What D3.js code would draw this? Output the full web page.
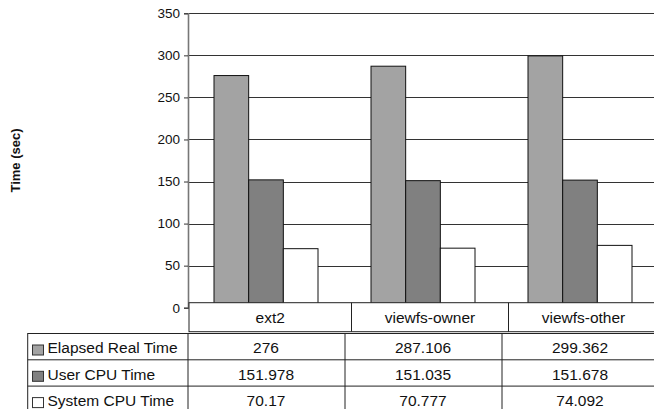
<!DOCTYPE html>
<html>
<head>
<meta charset="utf-8">
<script src="https://cdn.jsdelivr.net/npm/d3@7"></script>
<style>
  html, body { margin: 0; padding: 0; background: #fff; }
  svg { display: block; font-family: "Liberation Sans", Arial, sans-serif; }
</style>
</head>
<body>
<svg id="chart" width="654" height="409"></svg>
<script>
// ---- data ----
const categories = ["ext2", "viewfs-owner", "viewfs-other"];
const seriesNames = ["Elapsed Real Time", "User CPU Time", "System CPU Time"];
const elapsedReal = [276, 287.106, 299.362];
const userCpu = [151.978, 151.035, 151.678];
const systemCpu = [70.17, 70.777, 74.092];
const tableLabels = [["276", "287.106", "299.362"], ["151.978", "151.035", "151.678"], ["70.17", "70.777", "74.092"]];
const yTicks = [0, 50, 100, 150, 200, 250, 300, 350];
const yTitle = "Time (sec)";
const seriesColors = ["#a3a3a3", "#808080", "#ffffff"];

const seriesValues = [elapsedReal, userCpu, systemCpu];

const W = 654, H = 409;
const svg = d3.select("#chart");

const y = d3.scaleLinear().domain([0, 350]).range([307.7, 13.3]);
const x0 = d3.scaleBand().domain(categories).range([187.5, 658.5]).padding(0);
const x1 = d3.scaleBand().domain(seriesNames).range([26.5, 130.5]).padding(0);

const axisX = 188;

// gridlines
svg.append("g").selectAll("line").data(yTicks.filter(t => t > 0)).join("line")
  .attr("x1", axisX).attr("x2", W)
  .attr("y1", d => Math.round(y(d)) + 0.5).attr("y2", d => Math.round(y(d)) + 0.5)
  .attr("stroke", "#333").attr("stroke-width", 1);

// bars
const barData = [];
categories.forEach((c, ci) => {
  seriesNames.forEach((s, si) => {
    barData.push({ c, s, si, v: seriesValues[si][ci] });
  });
});
svg.append("g").selectAll("rect").data(barData).join("rect")
  .attr("x", d => x0(d.c) + x1(d.s))
  .attr("y", d => y(d.v))
  .attr("width", x1.bandwidth())
  .attr("height", d => y(0) - y(d.v))
  .attr("fill", d => seriesColors[d.si])
  .attr("stroke", "#111").attr("stroke-width", 1);

// y axis
const yAxis = d3.axisLeft(y).tickValues(yTicks).tickSize(4).tickPadding(4);
const gy = svg.append("g").attr("transform", `translate(${axisX},0)`).call(yAxis);
gy.select(".domain").attr("stroke", "#777").attr("stroke-width", 1.6);
gy.selectAll(".tick line").attr("stroke", "#333");
gy.selectAll(".tick text").attr("font-size", "13.5px").attr("fill", "#111")
  .attr("font-family", "'Liberation Sans', Arial, sans-serif");

// y title
svg.append("text")
  .attr("transform", `translate(20, ${(y(0) + y(350)) / 2}) rotate(-90)`)
  .attr("text-anchor", "middle")
  .attr("font-size", "13px").attr("font-weight", "bold").attr("fill", "#111")
  .text(yTitle);

// category header row
const headTop = 302.7, headBot = 331.7;
const headEdges = categories.map((c, i) => x0(c) + (i === 0 ? 1.5 : 7));
headEdges.push(x0.range()[1]);
svg.append("rect")
  .attr("x", headEdges[0]).attr("y", headTop)
  .attr("width", headEdges[3] - headEdges[0]).attr("height", headBot - headTop)
  .attr("fill", "#fff").attr("stroke", "#222").attr("stroke-width", 1);
svg.append("g").selectAll("line").data(headEdges.slice(1, 3)).join("line")
  .attr("x1", d => d).attr("x2", d => d).attr("y1", headTop).attr("y2", headBot)
  .attr("stroke", "#222");
svg.append("g").selectAll("text").data(categories).join("text")
  .attr("x", (d, i) => (headEdges[i] + headEdges[i + 1]) / 2)
  .attr("y", headTop + 20.5)
  .attr("text-anchor", "middle").attr("font-size", "15.5px").attr("fill", "#111")
  .text(d => d);

// data table
const tabTop = 333.5, rowH = 26.3, tabLeft = 27.7;
const tabRight = x0.range()[1];
svg.append("rect")
  .attr("x", tabLeft).attr("y", tabTop)
  .attr("width", tabRight - tabLeft).attr("height", rowH * 3)
  .attr("fill", "none").attr("stroke", "#222").attr("stroke-width", 1);
svg.append("g").selectAll("line").data([1, 2]).join("line")
  .attr("x1", tabLeft).attr("x2", tabRight)
  .attr("y1", d => tabTop + d * rowH).attr("y2", d => tabTop + d * rowH)
  .attr("stroke", "#222");
svg.append("g").selectAll("line").data(categories).join("line")
  .attr("x1", d => x0(d) + 0.5).attr("x2", d => x0(d) + 0.5)
  .attr("y1", tabTop).attr("y2", tabTop + rowH * 3)
  .attr("stroke", "#222");

seriesNames.forEach((s, si) => {
  const rowY = tabTop + si * rowH;
  svg.append("rect")
    .attr("x", 32.5).attr("y", rowY + 11.5).attr("width", 11).attr("height", 10)
    .attr("fill", seriesColors[si]).attr("stroke", "#333").attr("stroke-width", 1);
  svg.append("text")
    .attr("x", 47.5).attr("y", rowY + 19.8)
    .attr("font-size", "15.5px").attr("fill", "#111")
    .text(s);
  svg.append("g").selectAll("text").data(categories).join("text")
    .attr("x", d => x0(d) + x0.bandwidth() / 2)
    .attr("y", rowY + 19.8)
    .attr("text-anchor", "middle").attr("font-size", "15.5px").attr("fill", "#111")
    .text((d, ci) => tableLabels[si][ci]);
});
</script>
</body>
</html>
